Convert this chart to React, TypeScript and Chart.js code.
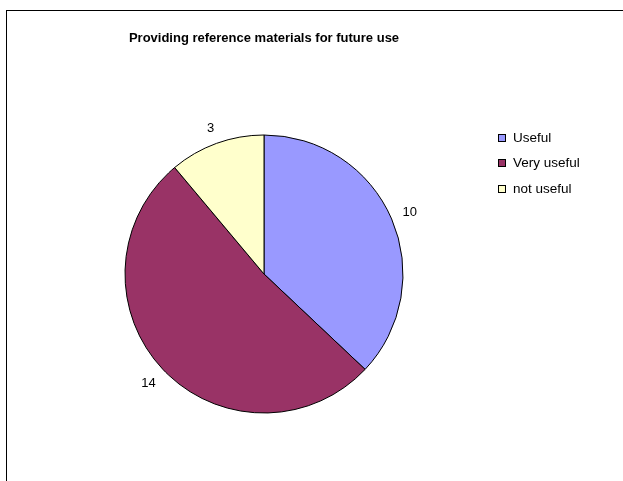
import React, { useEffect, useRef } from "react";
import { Chart, registerables } from "chart.js";

Chart.register(...registerables);

const TITLE = "Providing reference materials for future use";
const categories = ["Useful", "Very useful", "not useful"];
const values = [10, 14, 3];
const colors = ["#9999FF", "#993366", "#FFFFCC"];

const FONT = "'Liberation Sans', Arial, sans-serif";

const decorPlugin = {
  id: "decor",
  beforeDraw(chart: any) {
    const ctx = chart.ctx;
    ctx.save();
    ctx.fillStyle = "#ffffff";
    ctx.fillRect(0, 0, chart.width, chart.height);
    ctx.strokeStyle = "#000000";
    ctx.lineWidth = 1;
    ctx.strokeRect(6.5, 10.5, 800, 700);
    ctx.restore();
  },
  afterDraw(chart: any) {
    const ctx = chart.ctx;
    ctx.save();
    // title
    ctx.fillStyle = "#000000";
    ctx.font = `bold 13px ${FONT}`;
    ctx.textAlign = "center";
    ctx.textBaseline = "alphabetic";
    ctx.fillText(TITLE, 264, 42);

    // legend
    ctx.font = `13.5px ${FONT}`;
    ctx.textAlign = "left";
    ctx.textBaseline = "middle";
    const rowY = [137.5, 162.5, 188.5];
    categories.forEach((c, i) => {
      const y = rowY[i];
      ctx.fillStyle = colors[i];
      ctx.fillRect(498.5, Math.round(y - 3.5) + 0.5, 7, 7);
      ctx.strokeStyle = "#000000";
      ctx.lineWidth = 1;
      ctx.strokeRect(498.5, Math.round(y - 3.5) + 0.5, 7, 7);
      ctx.fillStyle = "#000000";
      ctx.fillText(c, 513, y + 1);
    });

    // data labels
    const meta = chart.getDatasetMeta(0);
    ctx.font = `13px ${FONT}`;
    ctx.textAlign = "center";
    ctx.textBaseline = "middle";
    meta.data.forEach((arc: any, i: number) => {
      const p = arc.getProps(["x", "y", "startAngle", "endAngle", "outerRadius"], true);
      const mid = (p.startAngle + p.endAngle) / 2;
      const dx = Math.cos(mid);
      const dy = Math.sin(mid);
      const txt = String(values[i]);
      const w = ctx.measureText(txt).width;
      const h = 10;
      const ext = Math.abs(dx) * w / 2 + Math.abs(dy) * h / 2;
      const d = p.outerRadius + 11 + ext;
      ctx.fillStyle = "#000000";
      ctx.fillText(txt, p.x + dx * d, p.y + dy * d + 1);
    });
    ctx.restore();
  },
};

export default function App() {
  const ref = useRef<HTMLCanvasElement | null>(null);
  useEffect(() => {
    if (!ref.current) return;
    const chart = new Chart(ref.current, {
      type: "pie",
      data: {
        labels: categories,
        datasets: [
          {
            data: values,
            backgroundColor: colors,
            borderColor: "#000000",
            borderWidth: 1,
            hoverBorderWidth: 1,
            hoverOffset: 0,
            offset: 0,
          },
        ],
      },
      options: {
        responsive: false,
        animation: false,
        devicePixelRatio: 1,
        radius: 139,
        layout: { padding: { left: 100, right: 195, top: 90, bottom: 23 } },
        plugins: {
          legend: { display: false },
          title: { display: false },
          tooltip: { enabled: false },
        },
        events: [],
      } as any,
      plugins: [decorPlugin],
    });
    return () => chart.destroy();
  }, []);
  return (
    <div style={{ position: "fixed", left: 0, top: 0, width: 623, height: 481, background: "#fff" }}>
      <canvas ref={ref} width={623} height={481} style={{ display: "block" }} />
    </div>
  );
}
